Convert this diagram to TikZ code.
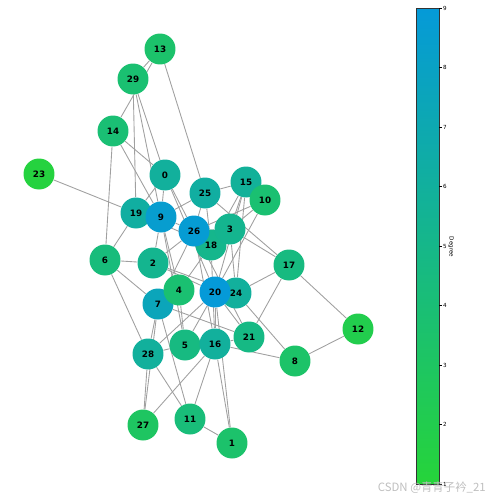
\documentclass[tikz,border=0pt]{standalone}
\usepackage{fontspec}
\setmainfont{DejaVu Sans}
\newfontfamily\cjkfont{Noto Sans CJK SC}
\usetikzlibrary{positioning}
\pgfdeclarelayer{bg}
\pgfsetlayers{bg,main}
\definecolor{cgreen}{RGB}{38,212,58}
\definecolor{cblue}{RGB}{5,154,216}
\definecolor{edgegray}{RGB}{160,160,160}
\tikzset{
  vtx/.style={circle, minimum size=0.62cm, inner sep=0pt, fill=cblue!#1!cgreen,
    font=\fontsize{5}{6}\selectfont\bfseries},
  link/.style={draw=edgegray, line width=0.5pt},
  tick/.style={line width=0.3pt},
  ticklbl/.style={font=\fontsize{3.2}{4}\selectfont, anchor=west, inner sep=0.5pt},
}

\begin{document}
\begin{tikzpicture}[x=0.02cm,y=-0.02cm]
  \useasboundingbox (0,0) rectangle (494,494);

  % vertices, fill after degree
  \foreach \n/\x/\y/\p in {13/160/49/31, 29/133/79/35, 14/113/131/37, 23/39/174/3,
      0/165/175/62, 25/205/193/65, 15/246/182/60, 10/265/200/35, 19/136/213/65,
      9/161/217/94, 18/211/245/52, 26/194/231/97, 3/230/229/54, 6/105/260/41,
      2/153/263/54, 17/289/265/44, 7/158/304/81, 4/179/290/35, 24/236/293/62,
      20/215/292/100, 12/358/329/12, 21/249/337/47, 8/295/361/29, 5/185/345/45,
      16/215/344/62, 28/148/354/62, 27/143/425/25, 11/190/419/40, 1/232/443/31}
    \node[vtx=\p] (v\n) at (\x,\y) {\n};

  % edges
  \begin{pgfonlayer}{bg}
    \foreach \a/\b in {13/29, 13/14, 13/25, 29/0, 29/9, 29/19, 14/0, 14/9, 14/6,
        23/19, 0/9, 0/19, 0/26, 0/20, 19/9, 19/6, 19/18,
        9/25, 9/26, 9/2, 9/4, 9/5, 25/15, 25/26, 25/18, 25/17,
        15/10, 15/3, 15/18, 15/20, 15/24, 10/3, 10/26, 10/20,
        26/3, 26/18, 26/2, 26/7, 26/16, 26/21, 3/17, 3/24, 18/16, 18/4,
        6/2, 6/7, 6/28, 2/24, 2/20, 17/24, 17/21, 17/12, 4/7, 4/5,
        20/24, 20/16, 20/5, 20/28, 20/1, 20/21, 24/8, 7/28, 7/27, 7/11, 7/21,
        21/16, 16/8, 16/27, 16/11, 16/1, 28/5, 28/27, 28/11, 11/1, 12/8, 5/16}
      \draw[link] (v\a) -- (v\b);
  \end{pgfonlayer}

  % colour bar
  \shade[bottom color=cgreen, top color=cblue] (416,484) rectangle (439,8);
  \draw[line width=0.4pt, black!80] (416,484) rectangle (439,8);
  \foreach \v in {1,...,9}
    \draw[tick] (439,{484-(\v-1)*59.5}) -- (442,{484-(\v-1)*59.5})
      node[ticklbl] {\v};
  \node[font=\fontsize{3.2}{4}\selectfont, rotate=-90] (cbar) at (451,247) {Degree};

  \node[font=\cjkfont\fontsize{6.5}{7}\selectfont, text=black!25, anchor=east] (mark)
    at (492,488) {CSDN @青青子衿\_21};
\end{tikzpicture}
\end{document}
